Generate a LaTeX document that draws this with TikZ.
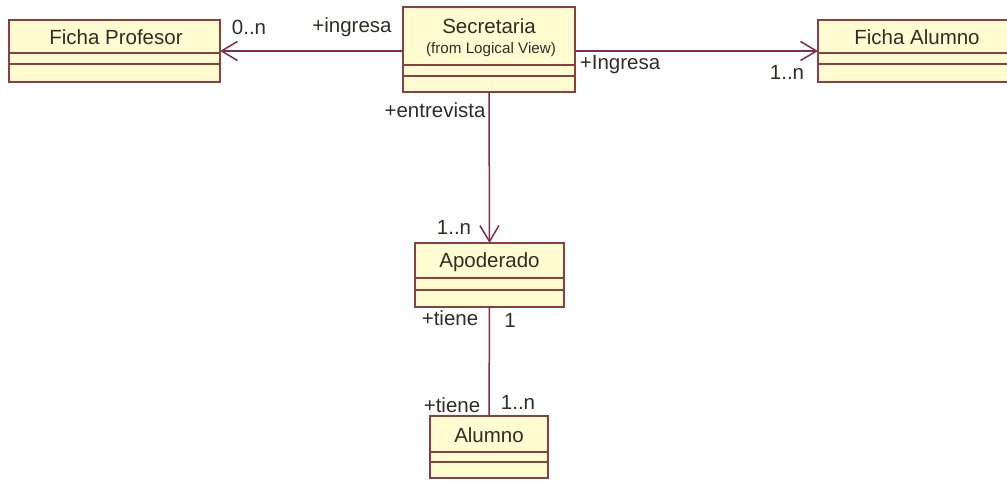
\documentclass[tikz,border=0pt]{standalone}
\usepackage{fontspec}
\setmainfont{Liberation Sans}
\usetikzlibrary{arrows.meta,calc}

\definecolor{classfill}{HTML}{FFFCD2}
\definecolor{classedge}{HTML}{8A4040}
\definecolor{assocline}{HTML}{7E2F48}
\definecolor{inktext}{HTML}{2E2E26}

\tikzset{
  classbox/.style={draw=classedge, fill=classfill, line width=1.6pt,
    inner sep=0pt, outer sep=0pt},
  divider/.style={draw=classedge, line width=1.4pt},
  classname/.style={font=\fontsize{20.5}{22}\selectfont, text=inktext, inner sep=0pt},
  subname/.style={font=\fontsize{15.2}{17}\selectfont, text=inktext, inner sep=0pt},
  rolelabel/.style={font=\fontsize{20.5}{22}\selectfont, text=inktext, inner sep=0pt},
  assoc/.style={draw=assocline, line width=1.5pt},
  navigable/.style={assoc, -{Straight Barb[length=16pt,width=19pt,line width=1.5pt]}},
}

\begin{document}
\begin{tikzpicture}[x=1pt,y=-1pt]
  \useasboundingbox (0,0) rectangle (1007,480);

  % class boxes
  \node[classbox, minimum width=211pt, minimum height=62pt] (prof) at (114.5,51) {};
  \node[classbox, minimum width=172pt, minimum height=85pt] (sec) at (489,49.5) {};
  \node[classbox, minimum width=194pt, minimum height=62pt] (falu) at (915,51) {};
  \node[classbox, minimum width=149pt, minimum height=64pt] (apo) at (489.5,275) {};
  \node[classbox, minimum width=118pt, minimum height=62pt] (alu) at (489,447) {};

  % attribute / operation compartments
  \foreach \n/\a/\b in {prof/33/44, sec/58/69, falu/33/44, apo/35/47, alu/36/46} {
    \draw[divider] ([yshift=-\a pt]\n.north west) -- ([yshift=-\a pt]\n.north east);
    \draw[divider] ([yshift=-\b pt]\n.north west) -- ([yshift=-\b pt]\n.north east);
  }

  % class names
  \node[classname] (profname) at (116,37) {Ficha Profesor};
  \node[classname] (secname) at (489,26) {Secretaria};
  \node[subname] (secpkg) at (491,50) {(from Logical View)};
  \node[classname] (faluname) at (917,37) {Ficha Alumno};
  \node[classname] (aponame) at (489.5,262) {Apoderado};
  \node[classname] (aluname) at (489,435) {Alumno};

  % associations
  \draw[navigable] (sec.west |- prof.east) -- (prof.east);
  \draw[navigable] (sec.east |- falu.west) -- (falu.west);
  \draw[navigable] (sec.south) -- (apo.north);
  \draw[assoc] (apo.south) -- (alu.north);

  % roles and multiplicities
  \node[rolelabel] (m1) at (249,27) {0..n};
  \node[rolelabel] (r1) at (352,27) {+ingresa};
  \node[rolelabel] (r2) at (620,65) {+Ingresa};
  \node[rolelabel] (m2) at (787,72) {1..n};
  \node[rolelabel] (r3) at (435,110) {+entrevista};
  \node[rolelabel] (m3) at (454,227) {1..n};
  \node[rolelabel] (r4) at (450,318) {+tiene};
  \node[rolelabel] (m4) at (510,320) {1};
  \node[rolelabel] (r5) at (452,405) {+tiene};
  \node[rolelabel] (m5) at (518,402) {1..n};
\end{tikzpicture}
\end{document}
